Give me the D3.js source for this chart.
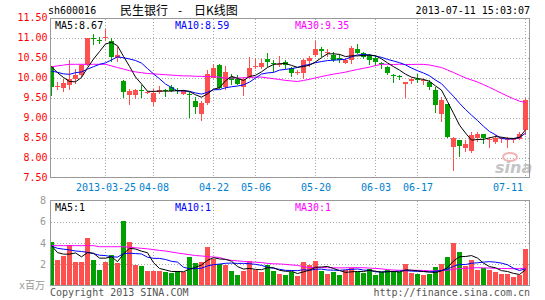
<!DOCTYPE html>
<html>
<head>
<meta charset="utf-8">
<script src="https://cdn.jsdelivr.net/npm/d3@7"></script>
<style>
body { margin: 0; background: #fff; }
svg { display: block; }
text { font-family: "DejaVu Sans Mono", monospace; font-size: 10px; }
</style>
</head>
<body>
<svg id="chart" width="545" height="300"></svg>
<script>
// daily candles, 2013-03-12 .. 2013-07-11
const open  = [10.27, 9.77, 9.74, 9.81, 9.96, 10.06, 10.31, 10.99, 10.93, 10.99,
               10.92, 10.50, 9.91, 9.56, 9.56, 9.68, 9.62, 9.39, 9.64, 9.69,
               9.77, 9.69, 9.60, 9.60, 9.41, 9.08, 9.37, 10.00, 10.31, 9.77,
               10.02, 9.97, 9.77, 10.02, 10.26, 10.27, 10.47, 10.36, 10.31, 10.39,
               10.24, 10.13, 10.12, 10.42, 10.56, 10.72, 10.61, 10.56, 10.50, 10.37,
               10.45, 10.72, 10.62, 10.56, 10.49, 10.36, 10.27, 10.07, 10.03, 9.83,
               9.92, 9.96, 9.92, 9.89, 9.70, 9.10, 9.33, 8.27, 8.45, 8.25,
               8.17, 8.50, 8.58, 8.45, 8.40, 8.46, 8.45, 8.46, 8.47, 8.68];
const high  = [10.30, 9.89, 9.97, 10.43, 10.22, 10.35, 11.00, 11.10, 11.02, 11.21,
               10.98, 10.77, 9.93, 9.72, 9.72, 9.81, 9.67, 9.72, 9.79, 9.72,
               9.81, 9.74, 9.68, 9.64, 9.52, 9.41, 10.18, 10.35, 10.35, 10.29,
               10.10, 10.06, 10.01, 10.52, 10.49, 10.47, 10.62, 10.43, 10.53, 10.43,
               10.27, 10.18, 10.47, 10.53, 10.92, 10.77, 10.72, 10.64, 10.60, 10.50,
               10.78, 10.85, 10.64, 10.60, 10.53, 10.39, 10.28, 10.10, 10.07, 9.89,
               10.00, 10.08, 9.98, 9.93, 9.77, 9.52, 9.35, 8.52, 8.45, 8.43,
               8.64, 8.64, 8.58, 8.52, 8.56, 8.52, 8.52, 8.50, 8.64, 9.48];
const low   = [9.54, 9.70, 9.64, 9.68, 9.85, 10.02, 10.30, 10.81, 10.83, 10.92,
               10.39, 10.39, 9.49, 9.32, 9.47, 9.50, 9.58, 9.28, 9.60, 9.52,
               9.64, 9.58, 9.56, 8.98, 9.08, 8.91, 9.31, 9.98, 9.72, 9.68,
               9.81, 9.81, 9.54, 9.97, 10.22, 10.22, 10.27, 10.14, 10.27, 10.22,
               10.02, 10.06, 9.97, 10.27, 10.52, 10.52, 10.52, 10.39, 10.37, 10.33,
               10.35, 10.60, 10.47, 10.31, 10.28, 10.22, 10.06, 9.87, 9.93, 9.50,
               9.85, 9.87, 9.81, 9.70, 9.12, 8.89, 8.50, 7.67, 8.02, 8.14,
               8.12, 8.39, 8.35, 8.25, 8.35, 8.37, 8.25, 8.37, 8.43, 8.56];
const close = [9.77, 9.79, 9.87, 9.97, 10.06, 10.31, 11.00, 10.96, 10.91, 11.01,
               10.52, 10.56, 9.64, 9.66, 9.68, 9.66, 9.64, 9.62, 9.70, 9.68,
               9.67, 9.68, 9.66, 9.56, 9.27, 9.37, 10.10, 10.24, 9.74, 10.14,
               9.93, 9.85, 9.97, 10.24, 10.28, 10.37, 10.39, 10.35, 10.33, 10.32,
               10.12, 10.15, 10.45, 10.50, 10.72, 10.66, 10.63, 10.45, 10.43, 10.45,
               10.75, 10.62, 10.52, 10.45, 10.39, 10.35, 10.12, 10.05, 10.01, 9.89,
               9.97, 9.95, 9.94, 9.77, 9.31, 9.45, 8.52, 8.48, 8.28, 8.33,
               8.56, 8.60, 8.50, 8.47, 8.49, 8.48, 8.47, 8.47, 8.60, 9.45];
// volume, millions
const volume = [4.06, 2.44, 2.75, 3.81, 2.25, 2.25, 4.44, 2.44, 1.50, 2.25,
                2.90, 2.12, 6.10, 4.12, 1.94, 1.87, 1.40, 1.40, 1.40, 1.25,
                1.15, 1.40, 1.25, 2.65, 2.10, 2.25, 3.60, 2.50, 2.03, 1.94,
                1.40, 1.03, 1.34, 2.34, 1.47, 1.25, 1.94, 1.40, 1.10, 1.00,
                1.27, 0.86, 2.20, 1.90, 2.35, 1.40, 1.10, 1.24, 0.95, 1.50,
                1.65, 1.27, 1.17, 1.60, 1.00, 1.27, 1.43, 1.33, 1.30, 2.00,
                1.17, 1.10, 1.00, 1.10, 1.70, 2.00, 2.67, 4.03, 3.14, 1.80,
                2.44, 1.50, 1.65, 1.50, 1.24, 1.10, 1.10, 0.76, 1.00, 3.40];

// MA values for the first days, whose history is off the chart
const ma5Head  = [10.27, 10.12, 10.00, 9.90];
const ma10Head = [10.16, 10.13, 10.09, 10.08, 10.12, 10.14, 10.21, 10.27, 10.33];
const ma30Head = [10.27, 10.29, 10.31, 10.33, 10.33, 10.33, 10.33, 10.33, 10.33, 10.33,
                  10.29, 10.25, 10.21, 10.17, 10.14, 10.12, 10.10, 10.09, 10.08, 10.07,
                  10.06, 10.05, 10.04, 10.04, 10.03, 10.03, 10.02, 10.02, 10.01];
const vma5Head  = [3.75, 3.10, 2.95, 2.95];
const vma10Head = [3.70, 3.50, 3.42, 3.35, 3.25, 3.20, 3.12, 3.00, 2.85];
const vma30Head = [3.75, 3.75, 3.75, 3.75, 3.75, 3.75, 3.75, 3.75, 3.65, 3.65,
                   3.65, 3.65, 3.65, 3.60, 3.55, 3.50, 3.45, 3.38, 3.30, 3.25,
                   3.15, 3.06, 2.98, 2.90, 2.82, 2.78, 2.72, 2.68, 2.64];

const priceTicks = [7.5, 8, 8.5, 9, 9.5, 10, 10.5, 11, 11.5];
const volTicks = [2, 4, 6, 8];
const dateTickIdx = [9, 17, 27, 34, 44, 54, 61, 79];
const dateTickLabels = ["2013-03-25", "04-08", "04-22", "05-06", "05-20", "06-03", "06-17", "07-11"];

const RED = "#ff5050", GREEN = "#00a000";

const svg = d3.select("#chart");

const x = d3.scaleLinear().domain([0, close.length - 1]).range([51.5, 525.5]);
const y = d3.scaleLinear().domain([7.5, 11.5]).range([177.5, 17.5]);
const yv = d3.scaleLinear().domain([0, 8]).range([285.5, 200.5]);

function movingAvg(values, n, head) {
    return values.map((v, i) => i < n - 1 ? head[i] : d3.mean(values.slice(i - n + 1, i + 1)));
}
const colorOf = i => close[i] >= open[i] ? RED : GREEN;
const idx = d3.range(close.length);

// header
svg.append("text").attr("x", 48).attr("y", 14).text("sh600016");
const cjk = "'Noto Sans CJK SC', sans-serif";
svg.append("text").attr("x", 120).attr("y", 14.5)
    .style("font-family", cjk).style("font-size", "12px").text("民生银行");
svg.append("text").attr("x", 180).attr("y", 14.5).attr("text-anchor", "middle")
    .style("font-family", cjk).style("font-size", "12px").text("-");
svg.append("text").attr("x", 194).attr("y", 14.5)
    .style("font-family", cjk).style("font-size", "12px").text("日K线图");
svg.append("text").attr("x", 530).attr("y", 14).attr("text-anchor", "end").text("2013-07-11 15:03:07");

// clip paths
const defs = svg.append("defs");
defs.append("clipPath").attr("id", "clipMain").append("rect")
    .attr("x", 51).attr("y", 19).attr("width", 478).attr("height", 158);
defs.append("clipPath").attr("id", "clipVol").append("rect")
    .attr("x", 51).attr("y", 201).attr("width", 478).attr("height", 85);

// grid
const grid = svg.append("g").attr("stroke", "#aaa").attr("stroke-dasharray", "1,2")
    .attr("shape-rendering", "crispEdges");
grid.selectAll(".hgrid").data(priceTicks.slice(1, -1)).join("line")
    .attr("x1", 51).attr("x2", 529)
    .attr("y1", d => Math.round(y(d)) + 0.5).attr("y2", d => Math.round(y(d)) + 0.5);
grid.selectAll(".vhgrid").data(volTicks.slice(0, -1)).join("line")
    .attr("x1", 51).attr("x2", 529)
    .attr("y1", d => Math.round(yv(d)) + 0.5).attr("y2", d => Math.round(yv(d)) + 0.5);
dateTickIdx.forEach(i => {
    grid.append("line").attr("x1", x(i)).attr("x2", x(i)).attr("y1", 19).attr("y2", 177);
    grid.append("line").attr("x1", x(i)).attr("x2", x(i)).attr("y1", 201).attr("y2", 285);
});

// watermark
const wm = svg.append("g");
wm.append("ellipse").attr("cx", 510).attr("cy", 157).attr("rx", 7).attr("ry", 4)
    .attr("fill", "none").attr("stroke", "#f4b4b4").attr("stroke-width", 2);
wm.append("text").attr("x", 495).attr("y", 173)
    .style("font-family", "'DejaVu Sans', sans-serif").style("font-size", "16px")
    .style("font-style", "italic").style("font-weight", "bold")
    .attr("fill", "#c4c4c4").text("sina");

// candles
const candles = svg.append("g").attr("clip-path", "url(#clipMain)")
    .attr("shape-rendering", "crispEdges");
candles.selectAll(".wick").data(idx).join("line")
    .attr("x1", i => x(i)).attr("x2", i => x(i))
    .attr("y1", i => y(high[i])).attr("y2", i => y(low[i]))
    .attr("stroke", colorOf);
candles.selectAll(".body").data(idx).join("rect")
    .attr("x", i => x(i) - 2.5).attr("width", 5)
    .attr("y", i => Math.min(y(open[i]), y(close[i])))
    .attr("height", i => Math.max(1, Math.abs(y(open[i]) - y(close[i]))))
    .attr("fill", colorOf);

// volume bars
svg.append("g").attr("clip-path", "url(#clipVol)").attr("shape-rendering", "crispEdges")
    .selectAll("rect").data(idx).join("rect")
    .attr("x", i => x(i) - 2.5).attr("width", 5)
    .attr("y", i => yv(volume[i])).attr("height", i => yv(0) - yv(volume[i]))
    .attr("fill", colorOf);

// moving averages
const maDefs = [
    { n: 5, color: "#000", head: ma5Head, vhead: vma5Head },
    { n: 10, color: "#0000ff", head: ma10Head, vhead: vma10Head },
    { n: 30, color: "#ff00ff", head: ma30Head, vhead: vma30Head }
];
const lineP = d3.line().x((d, i) => x(i)).y(d => y(d));
const lineV = d3.line().x((d, i) => x(i)).y(d => yv(d));
maDefs.slice().reverse().forEach(m => {
    svg.append("path").attr("clip-path", "url(#clipMain)")
        .attr("d", lineP(movingAvg(close, m.n, m.head)))
        .attr("fill", "none").attr("stroke", m.color).attr("stroke-width", 1);
    svg.append("path").attr("clip-path", "url(#clipVol)")
        .attr("d", lineV(movingAvg(volume, m.n, m.vhead)))
        .attr("fill", "none").attr("stroke", m.color).attr("stroke-width", 1);
});

// frames
svg.append("rect").attr("x", 50.5).attr("y", 18.5).attr("width", 479).attr("height", 159)
    .attr("fill", "none").attr("stroke", "#999");
svg.append("rect").attr("x", 50.5).attr("y", 200.5).attr("width", 479).attr("height", 85)
    .attr("fill", "none").attr("stroke", "#999");

// legends
const legendX = [55, 175, 295];
const priceLegend = ["MA5:8.67", "MA10:8.59", "MA30:9.35"];
const volLegend = ["MA5:1", "MA10:1", "MA30:1"];
maDefs.forEach((m, k) => {
    svg.append("text").attr("x", legendX[k]).attr("y", 28.5).attr("fill", m.color).text(priceLegend[k]);
    svg.append("text").attr("x", legendX[k]).attr("y", 210.5).attr("fill", m.color).text(volLegend[k]);
});

// axes
const yAxis = svg.append("g").attr("transform", "translate(47.5,0)")
    .call(d3.axisLeft(y).tickValues(priceTicks).tickFormat(d3.format(".2f")).tickSize(0).tickPadding(0));
yAxis.select(".domain").remove();
yAxis.selectAll("text").attr("fill", "#ff0000")
    .style("font-family", "'DejaVu Sans Mono', monospace").style("font-size", "10px");

const vAxis = svg.append("g").attr("transform", "translate(46,0)")
    .call(d3.axisLeft(yv).tickValues(volTicks).tickFormat(d3.format("d")).tickSize(0).tickPadding(0));
vAxis.select(".domain").remove();
vAxis.selectAll("text").attr("fill", "#999")
    .style("font-family", "'DejaVu Sans Mono', monospace").style("font-size", "10px");

const xAxis = svg.append("g").attr("transform", "translate(0,180)")
    .call(d3.axisBottom(x).tickValues(dateTickIdx)
        .tickFormat((d, k) => dateTickLabels[k]).tickSize(0).tickPadding(3.5));
xAxis.select(".domain").remove();
xAxis.selectAll("text").attr("fill", "#0080d0")
    .style("font-family", "'DejaVu Sans Mono', monospace").style("font-size", "10px");
xAxis.selectAll(".tick").filter((d, k) => k === dateTickIdx.length - 1)
    .select("text").attr("text-anchor", "end").attr("x", -3);

// unit and footer
svg.append("text").attr("x", 45).attr("y", 289).attr("text-anchor", "end").attr("fill", "#999")
    .style("font-family", "'DejaVu Sans Mono', 'Noto Sans CJK SC', monospace").text("x百万");
svg.append("text").attr("x", 50).attr("y", 296).attr("fill", "#555").text("Copyright 2013 SINA.COM");
svg.append("text").attr("x", 530).attr("y", 296).attr("text-anchor", "end").attr("fill", "#555")
    .text("http://finance.sina.com.cn");
</script>
</body>
</html>
